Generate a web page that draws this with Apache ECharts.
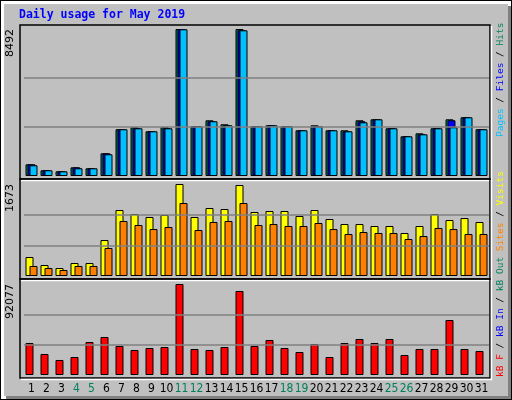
<!DOCTYPE html>
<html><head><meta charset="utf-8">
<script src="https://cdn.jsdelivr.net/npm/echarts@6/dist/echarts.min.js"></script>
<style>html,body{margin:0;padding:0;background:#c0c0c0}#c{width:512px;height:400px}</style>
</head><body><div id="c"></div>
<script>
var days = ['1','2','3','4','5','6','7','8','9','10','11','12','13','14','15','16','17','18','19','20','21','22','23','24','25','26','27','28','29','30','31'];
var weekend = ['4','5','11','12','18','19','25','26'];
var hits  = [675,330,270,500,445,1310,2700,2813,2582,2813,8492,2871,3218,2987,8492,2871,2929,2871,2640,2929,2640,2640,3218,3275,2755,2293,2466,2755,3275,3391,2700];
var files = [675,330,270,500,445,1310,2700,2755,2582,2755,8492,2871,3160,2929,8417,2871,2929,2871,2640,2871,2640,2582,3160,3275,2755,2293,2409,2755,3218,3391,2700];
var pages = [618,330,270,445,445,1254,2700,2755,2582,2755,8475,2871,3160,2929,8417,2871,2929,2871,2640,2871,2640,2582,3102,3275,2755,2293,2409,2755,2813,3391,2700];
var visits = [345,200,145,236,236,654,1200,1127,1073,1109,1673,1073,1236,1218,1654,1164,1182,1182,1091,1200,1036,945,945,909,909,782,909,1127,1018,1054,982];
var sites  = [182,145,109,182,182,509,1000,927,854,891,1327,836,982,1000,1327,927,945,909,909,964,854,764,800,782,782,673,727,873,854,764,764];
var kbF = [32380,21250,15180,18210,33390,38450,29345,25300,27320,28330,92077,26310,25300,28330,85000,29345,35420,27320,23270,31370,18210,32380,36430,32380,36430,20240,26310,26310,55650,26310,24290];
var maxes = [8492,1673,92077];

var mono = 'DejaVu Sans Mono';
var lf = '9.5px "'+mono+'"';
function ml(max){return {silent:true,symbol:'none',label:{show:false},lineStyle:{color:'#808080',type:'solid',width:1.5},data:[{yAxis:max/3},{yAxis:2*max/3}]};}
var bs = {borderColor:'#000',borderWidth:1};
var chart = echarts.init(document.getElementById('c'));
var frames = [[20,25,470,154],[20,179,470,100],[20,279,470,99]];
var g = [
 {type:'rect',shape:{x:0,y:0,width:512,height:400},style:{fill:'#000'},z:-10},
 {type:'rect',shape:{x:1,y:1,width:510,height:398},style:{fill:'#fff'},z:-10},
 {type:'rect',shape:{x:6,y:6,width:505,height:393},style:{fill:'#808080'},z:-10},
 {type:'rect',shape:{x:4,y:4,width:504,height:392},style:{fill:'#c0c0c0'},z:-10},
 {type:'text',x:19,y:9,style:{text:'Daily usage for May 2019',font:'bold 11.5px "'+mono+'"',fill:'#0000ff'}}
];
frames.forEach(function(f){
 g.push({type:'rect',shape:{x:f[0],y:f[1],width:f[2],height:f[3]},style:{fill:'none',stroke:'#000',lineWidth:1.5},z:10});
 g.push({type:'polyline',shape:{points:[[f[0]+1,f[1]+f[3]+1.5],[f[0]+f[2]+1.5,f[1]+f[3]+1.5],[f[0]+f[2]+1.5,f[1]+1]]},style:{stroke:'#fff',lineWidth:1.5},z:10});
});
var ylab = [[29,maxes[0]],[184,maxes[1]],[284,maxes[2]]];
ylab.forEach(function(l){
 g.push({type:'text',x:10,y:l[0],rotation:Math.PI/2,style:{text:String(l[1]),font:'11px "DejaVu Sans"',fill:'#000',align:'right',verticalAlign:'middle'}});
});
g.push({type:'text',x:501,y:137,rotation:Math.PI/2,style:{text:'{p|Pages}{k| / }{f|Files}{k| / }{h|Hits}',font:lf,align:'left',verticalAlign:'middle',
 rich:{p:{fill:'#00c0ff',font:lf},f:{fill:'#0000ff',font:lf},h:{fill:'#00805c',font:lf},k:{fill:'#000',font:lf}}}});
g.push({type:'text',x:501,y:377,rotation:Math.PI/2,style:{text:'{r|kB F}{k| / }{b|kB In}{k| / }{g|kB Out} {o|Sites}{k| / }{y|Visits}',font:lf,align:'left',verticalAlign:'middle',
 rich:{r:{fill:'#ff0000',font:lf},b:{fill:'#0000ff',font:lf},g:{fill:'#00805c',font:lf},o:{fill:'#ff8000',font:lf},y:{fill:'#ffff00',font:lf},k:{fill:'#000',font:lf}}}});

chart.setOption({
 animation:false,
 graphic:g,
 grid:[{left:24,width:465,top:29,height:147},{left:24,width:465,top:184,height:92},{left:24,width:465,top:284,height:91}],
 xAxis:[
  {type:'category',data:days,gridIndex:0,show:false},
  {type:'category',data:days,gridIndex:1,show:false},
  {type:'category',data:days,gridIndex:2,axisLine:{show:false},axisTick:{show:false},
   axisLabel:{interval:0,margin:8,fontSize:12,fontFamily:'"DejaVu Sans Condensed", "Liberation Sans Narrow", "DejaVu Sans"',color:function(v){return weekend.indexOf(v)>=0?'#00805c':'#000';}}}
 ],
 yAxis:[
  {type:'value',gridIndex:0,min:0,max:maxes[0],show:false,splitLine:{show:false}},
  {type:'value',gridIndex:1,min:0,max:maxes[1],show:false,splitLine:{show:false}},
  {type:'value',gridIndex:2,min:0,max:maxes[2],show:false,splitLine:{show:false}}
 ],
 series:[
  {type:'bar',xAxisIndex:0,yAxisIndex:0,data:hits,barWidth:8,barGap:'-75%',itemStyle:Object.assign({color:'#00805c'},bs),markLine:ml(maxes[0])},
  {type:'bar',xAxisIndex:0,yAxisIndex:0,data:files,barWidth:8,barGap:'-75%',itemStyle:Object.assign({color:'#0000ff'},bs)},
  {type:'bar',xAxisIndex:0,yAxisIndex:0,data:pages,barWidth:8,barGap:'-75%',itemStyle:Object.assign({color:'#00c0ff'},bs)},
  {type:'bar',xAxisIndex:1,yAxisIndex:1,data:visits,barWidth:8,barGap:'-50%',itemStyle:Object.assign({color:'#ffff00'},bs),markLine:ml(maxes[1])},
  {type:'bar',xAxisIndex:1,yAxisIndex:1,data:sites,barWidth:8,barGap:'-50%',itemStyle:Object.assign({color:'#ff8000'},bs)},
  {type:'bar',xAxisIndex:2,yAxisIndex:2,data:kbF,barWidth:8,barGap:'-50%',itemStyle:Object.assign({color:'#ff0000'},bs),markLine:ml(maxes[2])},
  {type:'bar',xAxisIndex:2,yAxisIndex:2,data:kbF.map(function(){return 0;}),barWidth:8,barGap:'-50%',itemStyle:{color:'transparent'}}
 ]
});
</script></body></html>
